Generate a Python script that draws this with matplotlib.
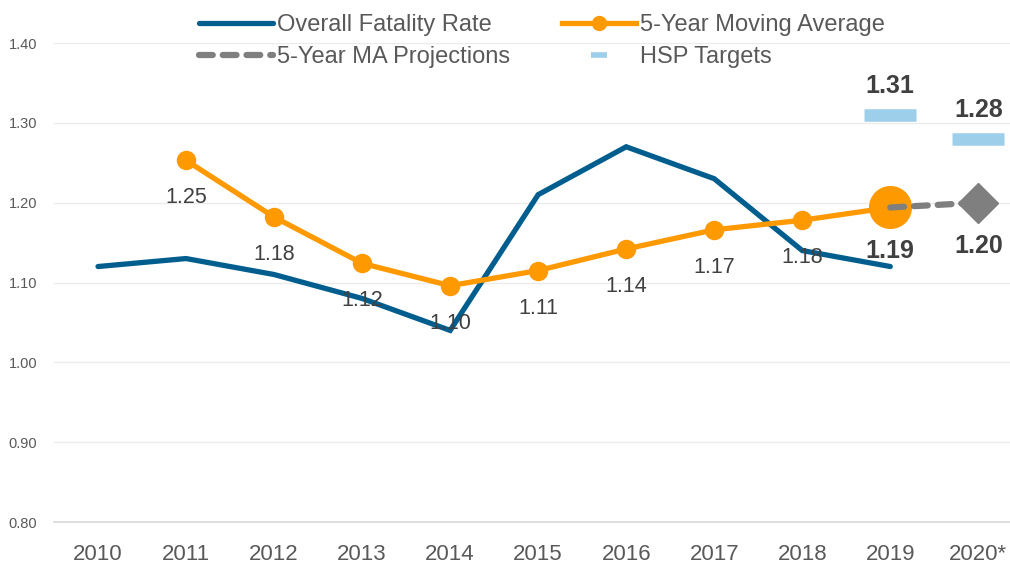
import matplotlib.pyplot as plt

plt.rcParams['font.family'] = ['Liberation Sans', 'DejaVu Sans']

years = ["2010", "2011", "2012", "2013", "2014", "2015", "2016", "2017", "2018", "2019", "2020*"]
fatality_rate = [1.12, 1.13, 1.11, 1.08, 1.04, 1.21, 1.27, 1.23, 1.14, 1.12]
moving_avg = [None, 1.253, 1.182, 1.124, 1.096, 1.115, 1.142, 1.166, 1.178, 1.194]
ma_labels = ["", "1.25", "1.18", "1.12", "1.10", "1.11", "1.14", "1.17", "1.18", "1.19"]
proj_x = ["2019", "2020*"]
proj_vals = [1.194, 1.20]
proj_labels = ["1.19", "1.20"]
target_x = ["2019", "2020*"]
target_vals = [1.31, 1.28]
target_labels = ["1.31", "1.28"]

blue = "#005E8E"
orange = "#FF9900"
gray = "#7F7F7F"
light_blue = "#9DCEEA"
txt = "#404040"

fig = plt.figure(figsize=(10.1, 5.64), dpi=100)
ax = fig.add_axes([54 / 1010, 1 - 522 / 564, 1 - 54 / 1010, (522 - 43) / 564])
xi = list(range(len(years)))

h_rate, = ax.plot(xi[:len(fatality_rate)], fatality_rate, color=blue, lw=3.8,
                  solid_joinstyle="miter", solid_capstyle="round", zorder=3)

ma_x = [i for i, v in zip(xi, moving_avg) if v is not None]
ma_y = [v for v in moving_avg if v is not None]
ax.plot(ma_x, ma_y, color=orange, lw=3.8, marker="o", ms=13, zorder=4)
ax.plot(ma_x[-1], ma_y[-1], marker="o", ms=30, color=orange, zorder=5)

px = [years.index(y) for y in proj_x]
h_proj, = ax.plot(px, proj_vals, color=gray, lw=4.5, ls=(0, (2.2, 1.6)),
                  dash_capstyle="round", zorder=6)
ax.plot(px[-1], proj_vals[-1], marker="D", ms=20, color=gray, zorder=6)

tx = [years.index(y) for y in target_x]
ax.plot(tx, target_vals, ls="none", marker="_", ms=37, mew=9, color=light_blue, zorder=3)

for x, v, lab in zip(ma_x[:-1], ma_y[:-1], ma_labels[1:-1]):
    ax.annotate(lab, (x, v), xytext=(0, -27), textcoords="offset points",
                ha="center", va="center", fontsize=15.5, color=txt, zorder=7)
for x, v, lab in zip(px, proj_vals, proj_labels):
    ax.annotate(lab, (x, v), xytext=(0, -31), textcoords="offset points",
                ha="center", va="center", fontsize=18, fontweight="bold", color=txt, zorder=7)
for x, v, lab in zip(tx, target_vals, target_labels):
    ax.annotate(lab, (x, v), xytext=(0, 21), textcoords="offset points",
                ha="center", va="center", fontsize=18, fontweight="bold", color=txt, zorder=7)

ax.set_ylim(0.8, 1.4)
ax.set_yticks([0.8, 0.9, 1.0, 1.1, 1.2, 1.3, 1.4])
ax.set_yticklabels(["0.80", "0.90", "1.00", "1.10", "1.20", "1.30", "1.40"])
ax.set_xlim(-0.5, 10.36)
ax.set_xticks(xi)
ax.set_xticklabels(years)
ax.tick_params(axis="y", length=0, labelsize=10.5, colors="#595959", pad=12)
ax.tick_params(axis="x", length=0, labelsize=16, colors="#595959", pad=16)
ax.grid(axis="y", color="#EBEBEB", lw=1)
ax.set_axisbelow(True)
for s in ["top", "right", "left"]:
    ax.spines[s].set_visible(False)
ax.spines["bottom"].set_color("#D9D9D9")
ax.spines["bottom"].set_linewidth(1.2)

# legend handles (smaller markers than on the chart)
h_ma_leg = plt.Line2D([], [], color=orange, lw=3.8, marker="o", ms=10)
h_tgt_leg = plt.Line2D([], [], ls="none", marker="_", ms=11, mew=4, color=light_blue)
leg = fig.legend([h_rate, h_proj, h_ma_leg, h_tgt_leg],
                 ["Overall Fatality Rate", "5-Year MA Projections",
                  "5-Year Moving Average", "HSP Targets"],
                 loc="upper center", bbox_to_anchor=(0.537, 0.986), borderaxespad=0,
                 ncol=2, frameon=False, fontsize=17, labelcolor="#595959",
                 handlelength=3.1, handletextpad=0.2, columnspacing=2.2,
                 labelspacing=0.45, borderpad=0.25)

fig.savefig("out.png", dpi=100)
